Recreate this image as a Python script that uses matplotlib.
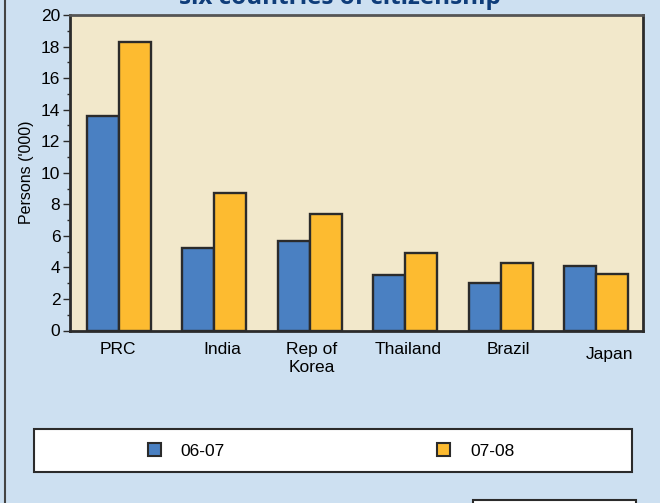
import matplotlib.pyplot as plt
from matplotlib.patches import Patch, Rectangle
from matplotlib.ticker import MultipleLocator
import numpy as np

# -----------------------------
# Data
# -----------------------------

countries = ["PRC", "India", "Rep of\nKorea", "Thailand", "Brazil", "Japan"]
series_names = ["06-07", "07-08"]
persons_0607 = [13.6, 5.2, 5.7, 3.5, 3.0, 4.1]
persons_0708 = [18.3, 8.7, 7.4, 4.9, 4.3, 3.6]

# label nudges (data units) for the category names
label_dx = [0.0, 0.1, 0.03, 0.04, 0.09, 0.15]
label_dy = [0, 0, 0, 0, 0, 2]

# -----------------------------
# Style
# -----------------------------

BG = "#cde0f1"
PLOT_BG = "#f2e8cb"
BLUE = "#4a80c2"
ORANGE = "#fdbb30"
EDGE = "#2b2b2b"
TITLE = "#0f3d7a"

plt.rcParams["font.family"] = ["Liberation Sans", "DejaVu Sans"]

fig = plt.figure(figsize=(6.6, 5.03), dpi=100, facecolor=BG)
ax = fig.add_axes([70 / 660, 1 - 330.5 / 503, 573 / 660, 315.5 / 503])
ax.set_facecolor(PLOT_BG)

x = np.arange(len(countries))
w = 1 / 3

ax.bar(x - w / 2 + 0.01, persons_0607, w, color=BLUE, edgecolor=EDGE, linewidth=1.7)
ax.bar(x + w / 2 + 0.01, persons_0708, w, color=ORANGE, edgecolor=EDGE, linewidth=1.7)

ax.set_xlim(-0.5, len(countries) - 0.5)
ax.set_ylim(0, 20)
ax.yaxis.set_major_locator(MultipleLocator(2))
ax.yaxis.set_minor_locator(MultipleLocator(1))
ax.tick_params(axis="y", which="major", length=5, width=1, color=EDGE,
               labelsize=12.5, pad=2)
ax.tick_params(axis="y", which="minor", length=2.5, width=1, color=EDGE)
ax.set_xticks([])

for side in ["left", "bottom", "right"]:
    ax.spines[side].set_color(EDGE)
    ax.spines[side].set_linewidth(2)
ax.spines["top"].set_color("#555555")
ax.spines["top"].set_linewidth(2)

ax.set_ylabel("Persons ('000)", fontsize=11.5, labelpad=5)

for i, name in enumerate(countries):
    ax.text(i + label_dx[i], -0.72 - label_dy[i] * 0.16, name,
            ha="center", va="top", fontsize=12.5, linespacing=1.25)

# title line sitting at the very top edge
fig.text(340 / 660, 1 - 4 / 503, "six countries of citizenship",
         ha="center", va="baseline", fontsize=17.5, fontweight="bold",
         color=TITLE, family=["Open Sans", "DejaVu Sans"])

# -----------------------------
# Legend
# -----------------------------

fig.patches.append(Rectangle((34 / 660, 1 - 472 / 503), 598 / 660, 43 / 503,
                             transform=fig.transFigure, facecolor="white",
                             edgecolor=EDGE, linewidth=1.5))
handles = [Patch(facecolor=BLUE, edgecolor=EDGE, linewidth=1.5),
           Patch(facecolor=ORANGE, edgecolor=EDGE, linewidth=1.5)]
fig.legend(handles, series_names, ncol=2, loc="center",
           bbox_to_anchor=(331 / 660, 1 - 451 / 503), frameon=False,
           fontsize=12.5, handlelength=0.75, handleheight=0.8,
           handletextpad=1.15, columnspacing=12.2)

# box at the lower right, cut by the bottom edge
fig.patches.append(Rectangle((473 / 660, -0.05), 163 / 660, 0.05 + 3 / 503,
                             transform=fig.transFigure, facecolor="white",
                             edgecolor=EDGE, linewidth=1.5))

# outer frame on the left
fig.add_artist(plt.Line2D([4.5 / 660, 4.5 / 660], [0, 1],
                          transform=fig.transFigure, color="#444444",
                          linewidth=1.5))

plt.savefig("out.png", dpi=100, facecolor=BG)
